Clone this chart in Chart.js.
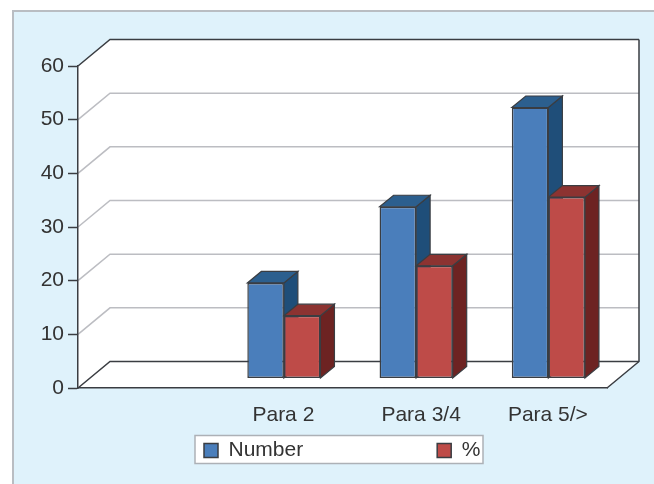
<!DOCTYPE html>
<html>
<head>
<meta charset="utf-8">
<style>
    html, body { margin: 0; padding: 0; background: #fff; }
    #chart-wrap { width: 654px; height: 484px; }
</style>
<script src="https://cdn.jsdelivr.net/npm/chart.js@4"></script>
</head>
<body>
<div id="chart-wrap"><canvas id="para-chart"></canvas></div>
<script>
const categories = ['', 'Para 2', 'Para 3/4', 'Para 5/>'];
const numberValues = [null, 17.8, 32, 50.5];
const percentValues = [null, 11.7, 21, 33.8];
const yTicks = [0, 10, 20, 30, 40, 50, 60];

const FONT = 'Liberation Sans, Arial, sans-serif';
const TEXT = '#333333';
const EDGE = '#3a3d42';
const BLUE = { front: '#4a7ebb', top: '#2c5f8e', side: '#1f4e79' };
const RED = { front: '#be4b48', top: '#8c3331', side: '#6d2322' };

// depth of the box and of the bars, in pixels
const WALL_DX = 32, WALL_DY = -26.5;
const BAR_DX = 14, BAR_DY = -11.5;
const INSET_X = 7.5, INSET_Y = -9.5;

const poly = (ctx, pts, fill, stroke, width) => {
    ctx.beginPath();
    pts.forEach((p, i) => i ? ctx.lineTo(p[0], p[1]) : ctx.moveTo(p[0], p[1]));
    ctx.closePath();
    if (fill) { ctx.fillStyle = fill; ctx.fill(); }
    if (stroke) { ctx.strokeStyle = stroke; ctx.lineWidth = width; ctx.stroke(); }
};

const line = (ctx, pts, color, width) => {
    ctx.beginPath();
    pts.forEach((p, i) => i ? ctx.lineTo(p[0], p[1]) : ctx.moveTo(p[0], p[1]));
    ctx.strokeStyle = color;
    ctx.lineWidth = width;
    ctx.stroke();
};

// panel, walls and floor of the 3d box
const boxPlugin = {
    id: 'box',
    beforeDraw(chart) {
        const { ctx, chartArea: a, scales: { y } } = chart;
        ctx.save();
        ctx.fillStyle = '#fff';
        ctx.fillRect(0, 0, chart.width, chart.height);
        ctx.fillStyle = '#dff2fb';
        ctx.fillRect(12, 10, chart.width, chart.height);
        ctx.strokeStyle = '#b9bdc2';
        ctx.lineWidth = 2;
        ctx.strokeRect(13, 11, chart.width + 10, chart.height + 10);

        const backL = a.left + WALL_DX, backR = a.right + WALL_DX;
        poly(ctx, [[a.left, a.bottom], [a.left, a.top], [backL, a.top + WALL_DY], [backR, a.top + WALL_DY],
            [backR, a.bottom + WALL_DY], [a.right, a.bottom]], '#fff');

        yTicks.forEach(v => {
            const py = y.getPixelForValue(v);
            const edge = v === 0 || v === 60;
            line(ctx, [[a.left, py], [backL, py + WALL_DY], [backR, py + WALL_DY]],
                edge ? EDGE : '#bcbdc2', 1.5);
        });
        line(ctx, [[backR, a.top + WALL_DY], [backR, a.bottom + WALL_DY], [a.right, a.bottom]], EDGE, 1.5);

        // frame behind the legend
        ctx.fillStyle = '#fff';
        ctx.fillRect(195, 435.5, 288, 28);
        ctx.strokeStyle = '#adb1b6';
        ctx.lineWidth = 1.5;
        ctx.strokeRect(195, 435.5, 288, 28);
        ctx.restore();
    },
    beforeUpdate(chart) {
        // the legend sits in its own frame, so it takes no layout room
        const legend = chart.legend;
        if (legend.zeroHeight) return;
        legend.zeroHeight = true;
        const fit = legend.fit;
        legend.fit = function () {
            fit.call(this);
            this.height = 0;
        };
    },
    afterLayout(chart) {
        const legend = chart.legend;
        const pad = legend.options.labels.padding;
        legend.left = 204 - pad;
        legend.right = chart.width;
        legend.top = 450 - 10 - pad;
        legend.bottom = chart.height;

        // the middle label sits a little right of its bars
        const items = chart.scales.x.getLabelItems(chart.chartArea);
        items[2].options.translation[0] += 5.5;
    },
    beforeDatasetsDraw(chart) {
        const { ctx } = chart;
        // bars stand back from the front edge of the floor
        ctx.save();
        ctx.translate(INSET_X, INSET_Y);
        [BLUE, RED].forEach((tone, d) => {
            const values = chart.data.datasets[d].data;
            chart.getDatasetMeta(d).data.forEach((bar, i) => {
                if (values[i] === null) return;
                const { x, y, base, width } = bar.getProps(['x', 'y', 'base', 'width'], true);
                const r = x + width / 2, l = x - width / 2;
                poly(ctx, [[r, y], [r + BAR_DX, y + BAR_DY], [r + BAR_DX, base + BAR_DY], [r, base]], tone.side, EDGE, 1.2);
                poly(ctx, [[l, y], [l + BAR_DX, y + BAR_DY], [r + BAR_DX, y + BAR_DY], [r, y]], tone.top, EDGE, 1.2);
            });
        });
    },
    afterDatasetsDraw(chart) {
        chart.ctx.restore();
    }
};

const data = {
    labels: categories,
    datasets: [{
        label: 'Number',
        data: numberValues,
        backgroundColor: BLUE.front,
        borderColor: EDGE,
        borderWidth: 1.5,
        borderSkipped: false,
        clip: false
    },
    {
        label: '%',
        data: percentValues,
        backgroundColor: RED.front,
        borderColor: EDGE,
        borderWidth: 1.5,
        borderSkipped: false,
        clip: false
    }]
};

const config = {
    type: 'bar',
    data: data,
    plugins: [boxPlugin],
    options: {
        responsive: false,
        animation: false,
        categoryPercentage: 0.553,
        barPercentage: 1,
        layout: {
            padding: { left: 0, right: 47, top: 66, bottom: 56 }
        },
        plugins: {
            tooltip: { enabled: false },
            legend: {
                position: 'bottom',
                align: 'start',
                labels: {
                    boxWidth: 14,
                    boxHeight: 14,
                    padding: 134,
                    color: TEXT,
                    font: { family: FONT, size: 21 }
                }
            }
        },
        scales: {
            x: {
                grid: { display: false, drawTicks: false },
                border: { display: true, color: EDGE, width: 1.5 },
                afterFit(scale) { scale.height = 40; },
                ticks: {
                    color: TEXT,
                    font: { family: FONT, size: 21 },
                    padding: 15,
                    labelOffset: 7,
                    maxRotation: 0,
                    autoSkip: false
                }
            },
            y: {
                min: 0,
                max: 60,
                afterFit(scale) { scale.width = 78; },
                afterBuildTicks(scale) { scale.ticks = yTicks.map(value => ({ value })); },
                grid: { drawOnChartArea: false, tickLength: 10, tickColor: EDGE, tickWidth: 1.5 },
                border: { display: true, color: EDGE, width: 1.5 },
                ticks: {
                    autoSkip: false,
                    color: TEXT,
                    font: { family: FONT, size: 21 },
                    padding: 4
                }
            }
        }
    }
};

const $$ = el => document.getElementById(el);
const canvas = $$('para-chart');
canvas.width = 654;
canvas.height = 484;
new Chart(canvas, config);
</script>
</body>
</html>
